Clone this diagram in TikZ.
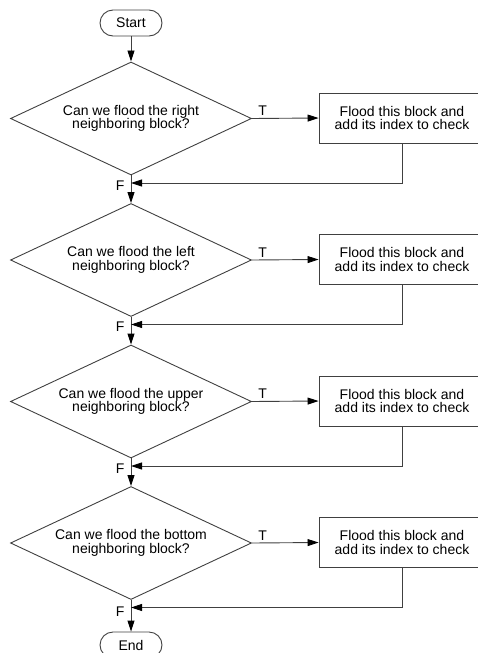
\documentclass[tikz,border=0pt]{standalone}
\usepackage{fontspec}
\setmainfont{Liberation Sans}
\usetikzlibrary{arrows.meta,%
	shapes.geometric}

\begin{document}
\begin{tikzpicture}[x=1pt,y=-1pt,
	every node/.style={font=\fontsize{14}{13.3}\selectfont,draw=black!75,line width=0.9pt},
	term_node/.style={rectangle,rounded corners=13pt,minimum width=62pt,minimum height=26pt,inner sep=0pt},
	dec_node/.style={diamond,aspect=2.13,minimum width=241pt,minimum height=113pt,inner sep=0pt,align=center},
	proc_node/.style={rectangle,minimum width=166pt,minimum height=50pt,inner sep=0pt,align=center},
	lbl/.style={draw=none,inner sep=2pt},
	flow/.style={-{Triangle[length=11pt,width=7pt,color=black]},draw=black!75,line width=0.9pt}]
	\useasboundingbox (0,0) rectangle (477,653);

	\node[term_node] (start) at (131,23) {Start};
	\node[dec_node] (d1) at (131,118.5) {Can we flood the right\\neighboring block?};
	\node[dec_node] (d2) at (131,260) {Can we flood the left\\neighboring block?};
	\node[dec_node] (d3) at (131,401.5) {Can we flood the upper\\neighboring block?};
	\node[dec_node] (d4) at (131,543) {Can we flood the bottom\\neighboring block?};
	\node[term_node] (end) at (131,645) {End};

	\node[proc_node] (b1) at (402,118) {Flood this block and\\add its index to check};
	\node[proc_node] (b2) at (402,259.5) {Flood this block and\\add its index to check};
	\node[proc_node] (b3) at (402,401) {Flood this block and\\add its index to check};
	\node[proc_node] (b4) at (402,542.5) {Flood this block and\\add its index to check};

	\coordinate (m1) at (131,183);
	\coordinate (m2) at (131,324.5);
	\coordinate (m3) at (131,466);
	\coordinate (m4) at (131,607.5);

	\draw[flow] (start) -- (d1);
	\draw[flow] (d1.east) -- (b1.west) node[lbl,pos=0.16,above] {T};
	\draw[flow] (d2.east) -- (b2.west) node[lbl,pos=0.16,above] {T};
	\draw[flow] (d3.east) -- (b3.west) node[lbl,pos=0.16,above] {T};
	\draw[flow] (d4.east) -- (b4.west) node[lbl,pos=0.16,above] {T};
	\draw[flow] (d1.south) -- (d2.north) node[lbl,pos=0.36,left=4pt] {F};
	\draw[flow] (d2.south) -- (d3.north) node[lbl,pos=0.36,left=4pt] {F};
	\draw[flow] (d3.south) -- (d4.north) node[lbl,pos=0.36,left=4pt] {F};
	\draw[flow] (d4.south) -- (end.north) node[lbl,pos=0.36,left=4pt] {F};
	\draw[flow] (b1.south) |- (m1);
	\draw[flow] (b2.south) |- (m2);
	\draw[flow] (b3.south) |- (m3);
	\draw[flow] (b4.south) |- (m4);
\end{tikzpicture}
\end{document}
